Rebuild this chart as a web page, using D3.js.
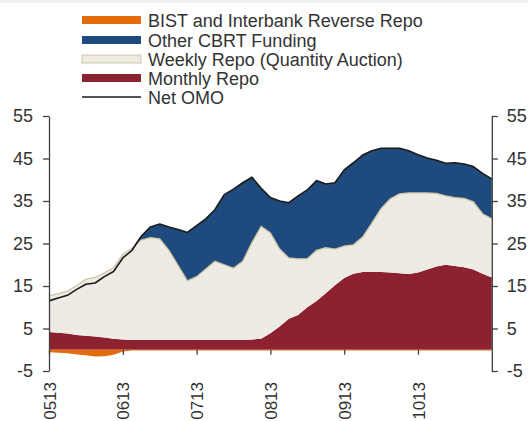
<!DOCTYPE html>
<html>
<head>
<meta charset="utf-8">
<script src="https://cdn.jsdelivr.net/npm/d3@7"></script>
<style>
  html, body { margin: 0; padding: 0; background: #ffffff; }
  svg { display: block; }
  text { font-family: "Liberation Sans", Arial, sans-serif; }
</style>
</head>
<body>
<svg id="chart" width="528" height="421"></svg>
<script>
const tickLabels = ["0513", "0613", "0713", "0813", "0913", "1013"];
const tickIndex = [0, 8, 16, 24, 32, 40];
const yTicks = [-5, 5, 15, 25, 35, 45, 55];

const monthlyRepo = [4.2, 4.0, 3.8, 3.5, 3.3, 3.1, 2.9, 2.6, 2.4, 2.3,
  2.3, 2.3, 2.3, 2.3, 2.3, 2.3, 2.3, 2.3, 2.3, 2.3,
  2.3, 2.3, 2.4, 2.6, 3.9, 5.5, 7.3, 8.2, 10.0, 11.5,
  13.3, 15.2, 16.9, 17.9, 18.3, 18.3, 18.3, 18.2, 18.0, 17.8,
  18.2, 18.9, 19.6, 20.0, 19.7, 19.4, 18.9, 17.9, 17.0];

const weeklyRepo = [8.5, 9.2, 10.0, 11.6, 13.3, 13.9, 15.2, 16.7, 20.0, 21.6,
  23.5, 24.1, 23.8, 21.1, 17.5, 13.9, 14.9, 16.7, 18.5, 17.7,
  16.9, 18.5, 22.8, 26.4, 23.6, 18.2, 14.3, 13.2, 11.4, 11.9,
  10.7, 8.5, 7.5, 6.8, 8.2, 11.5, 14.9, 17.3, 18.7, 19.1,
  18.7, 18.0, 17.2, 16.2, 16.1, 16.2, 15.9, 14.1, 13.8];

const otherFunding = [0, 0, 0, 0, 0, 0, 0, 0, 0, 0,
  0.9, 2.5, 3.5, 5.5, 8.5, 11.4, 12.0, 11.8, 12.2, 16.5,
  18.6, 18.5, 15.4, 9.0, 8.3, 11.3, 13.0, 14.8, 16.2, 16.4,
  15.0, 15.6, 17.9, 19.3, 19.3, 17.0, 14.2, 11.9, 10.7, 9.9,
  9.0, 8.2, 7.8, 7.7, 8.2, 8.1, 8.3, 9.5, 9.4];

const bistReverse = [-0.6, -0.7, -0.8, -1.1, -1.3, -1.6, -1.5, -1.2, -0.4, -0.2,
  -0.2, -0.2, -0.2, -0.2, -0.2, -0.2, -0.2, -0.2, -0.2, -0.2,
  -0.2, -0.2, -0.2, -0.2, -0.2, -0.2, -0.2, -0.2, -0.2, -0.2,
  -0.2, -0.2, -0.2, -0.2, -0.2, -0.2, -0.2, -0.2, -0.2, -0.2,
  -0.2, -0.2, -0.2, -0.2, -0.2, -0.2, -0.2, -0.2, -0.2];

const netOMO = [11.5, 12.2, 12.8, 14.2, 15.4, 15.7, 17.2, 18.4, 21.6, 23.4,
  26.7, 28.9, 29.6, 28.9, 28.3, 27.6, 29.2, 30.8, 33.0, 36.5,
  37.8, 39.3, 40.6, 38.0, 35.8, 35.0, 34.6, 36.2, 37.6, 39.8,
  39.0, 39.3, 42.3, 44.0, 45.8, 46.8, 47.4, 47.4, 47.4, 46.8,
  45.9, 45.1, 44.6, 43.9, 44.0, 43.7, 43.1, 41.5, 40.2];

const seriesNames = ["BIST and Interbank Reverse Repo", "Other CBRT Funding",
  "Weekly Repo (Quantity Auction)", "Monthly Repo", "Net OMO"];

// ---- Styling ----
const C = {
  orange: "#E36C0A",
  blue: "#1F4A7E",
  beige: "#EEEBE4",
  beigeEdge: "#CFC7A2",
  red: "#8C2130",
  line: "#1a1a1a",
  axis: "#404040",
  text: "#333333"
};

const rows = monthlyRepo.map((m, i) => ({
  i, monthly: m, weekly: weeklyRepo[i], other: otherFunding[i],
  bist: bistReverse[i], net: netOMO[i]
}));

const svg = d3.select("#chart");
const x = d3.scaleLinear().domain([0, rows.length - 1]).range([49, 491.8]);
const y = d3.scaleLinear().domain([-5, 55]).range([371, 116]);

// faint strip at the very top (cropped title band)
svg.append("rect").attr("x", 0).attr("y", 0).attr("width", 528).attr("height", 3)
  .attr("fill", "#f2f2ee");

const stack = d3.stack().keys(["monthly", "weekly", "other"])
  .order(d3.stackOrderNone).offset(d3.stackOffsetNone);
const layers = stack(rows);
const fills = { monthly: C.red, weekly: C.beige, other: C.blue };

const area = d3.area()
  .x((d, i) => x(i))
  .y0(d => y(d[0]))
  .y1(d => y(d[1]));

const g = svg.append("g");
layers.forEach(layer => {
  g.append("path").datum(layer)
    .attr("fill", fills[layer.key])
    .attr("d", area);
});

// tan edge on top of the weekly repo layer
g.append("path").datum(layers[1])
  .attr("fill", "none")
  .attr("stroke", C.beigeEdge)
  .attr("stroke-width", 1.3)
  .attr("d", d3.line().x((d, i) => x(i)).y(d => y(d[1])));

// BIST (negative)
g.append("path").datum(rows)
  .attr("fill", C.orange)
  .attr("d", d3.area().x(d => x(d.i)).y0(y(0)).y1(d => y(d.bist)));

// Net OMO line
g.append("path").datum(rows)
  .attr("fill", "none")
  .attr("stroke", C.line)
  .attr("stroke-width", 1.6)
  .attr("stroke-linejoin", "round")
  .attr("d", d3.line().x(d => x(d.i)).y(d => y(d.net)));

// ---- Axes ----
function styleAxis(sel, size) {
  sel.selectAll("path, line").attr("stroke", C.axis).attr("stroke-width", 1.3);
  sel.selectAll("text").attr("fill", C.text)
    .style("font-size", size + "px")
    .style("font-family", '"Liberation Sans", Arial, sans-serif');
}
const plainFmt = d => String(d);

const left = svg.append("g").attr("transform", `translate(${x(0)},0)`)
  .call(d3.axisLeft(y).tickValues(yTicks).tickFormat(plainFmt)
    .tickSizeInner(6).tickSizeOuter(0).tickPadding(10));
styleAxis(left, 18);

const right = svg.append("g").attr("transform", `translate(${x(rows.length - 1)},0)`)
  .call(d3.axisRight(y).tickValues(yTicks).tickFormat(plainFmt)
    .tickSizeInner(6).tickSizeOuter(0).tickPadding(9));
styleAxis(right, 18);

const bottom = svg.append("g").attr("transform", `translate(0,${y(0)})`)
  .call(d3.axisBottom(x).tickValues(tickIndex)
    .tickFormat((d, i) => tickLabels[i]).tickSizeInner(5).tickSizeOuter(0).tickPadding(0));
bottom.select(".domain").remove();
styleAxis(bottom, 17);
bottom.selectAll("text")
  .attr("text-anchor", "end")
  .attr("transform", `translate(0,${382 - y(0)}) rotate(-90)`)
  .attr("x", 0).attr("y", 0).attr("dy", "0.36em");

// ---- Legend ----
const legend = svg.append("g");
const legendRows = [
  { name: seriesNames[0], type: "area", fill: C.orange, cy: 20 },
  { name: seriesNames[1], type: "area", fill: C.blue, cy: 40 },
  { name: seriesNames[2], type: "area", fill: C.beige, stroke: C.beigeEdge, cy: 59 },
  { name: seriesNames[3], type: "area", fill: C.red, cy: 78 },
  { name: seriesNames[4], type: "line", cy: 97 }
];
legendRows.forEach(r => {
  if (r.type === "area") {
    legend.append("rect").attr("x", 82).attr("y", r.cy - 4)
      .attr("width", 59).attr("height", 8)
      .attr("fill", r.fill)
      .attr("stroke", r.stroke || "none").attr("stroke-width", r.stroke ? 1 : 0);
  } else {
    legend.append("line").attr("x1", 82).attr("x2", 141)
      .attr("y1", r.cy).attr("y2", r.cy)
      .attr("stroke", C.line).attr("stroke-width", 1.6);
  }
  legend.append("text").attr("x", 148).attr("y", r.cy + 6.5)
    .attr("fill", C.text).style("font-size", "18px")
    .text(r.name);
});
</script>
</body>
</html>
